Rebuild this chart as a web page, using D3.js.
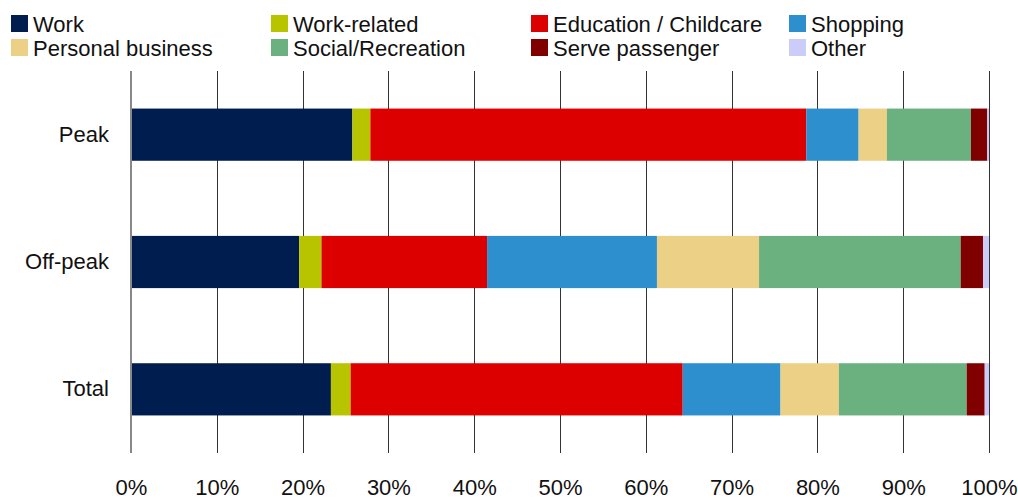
<!DOCTYPE html>
<meta charset="UTF-8">
<style>
  body { margin: 0; background: #fff; }
  text { font-family: "Liberation Sans", Arial, sans-serif; fill: #111; }
  .grid line { stroke: #333; stroke-width: 1px; }
</style>
<body>
<script src="https://cdn.jsdelivr.net/npm/d3@7"></script>
<script>

// categories (rows) and trip purposes (series)
var periods = ["Peak", "Off-peak", "Total"];
var purposes = ["Work", "Work-related", "Education / Childcare", "Shopping",
                "Personal business", "Social/Recreation", "Serve passenger", "Other"];
var colors = ["#001d50", "#b8c400", "#dd0000", "#2e8fce",
              "#ecd086", "#6bb07f", "#800000", "#ccccf8"];

// share of trips (%) per period, in purpose order
var peakValues    = [25.8, 2.1, 50.8, 6.1, 3.3, 9.8, 1.9, 0.2];
var offPeakValues = [19.6, 2.6, 19.3, 19.8, 11.9, 23.5, 2.6, 0.7];
var totalValues   = [23.3, 2.3, 38.7, 11.4, 6.8, 14.9, 2.1, 0.5];

var tickValues = [0, 10, 20, 30, 40, 50, 60, 70, 80, 90, 100];

var W = 1018, H = 502;
var margin = {top: 71, right: 29, bottom: 49, left: 131};
var width = W - margin.left - margin.right,
    height = H - margin.top - margin.bottom;

var svg = d3.select("body").append("svg")
    .attr("width", W)
    .attr("height", H);

// build rows for the stack
var valuesByPeriod = [peakValues, offPeakValues, totalValues];
var table = periods.map(function(p, i) {
  var row = {period: p};
  purposes.forEach(function(k, j) { row[k] = valuesByPeriod[i][j]; });
  return row;
});

var stack = d3.stack().keys(purposes);
var series = stack(table);

var x = d3.scaleLinear().domain([0, 100]).range([0, width]);
var y = d3.scaleBand().domain(periods).range([0, height]).paddingInner(0.59).paddingOuter(0.295);
var color = d3.scaleOrdinal().domain(purposes).range(colors);

var g = svg.append("g")
    .attr("transform", "translate(" + margin.left + "," + margin.top + ")");

// vertical gridlines
g.append("g").attr("class", "grid")
  .selectAll("line")
  .data(tickValues.slice(1))
  .enter().append("line")
    .attr("x1", function(d) { return Math.round(x(d)) + 0.5; })
    .attr("x2", function(d) { return Math.round(x(d)) + 0.5; })
    .attr("y1", 0)
    .attr("y2", height);

// bars
g.selectAll("g.layer")
  .data(series)
  .enter().append("g")
    .attr("class", "layer")
    .attr("fill", function(d) { return color(d.key); })
  .selectAll("rect")
  .data(function(d) { return d; })
  .enter().append("rect")
    .attr("x", function(d) { return x(d[0]); })
    .attr("width", function(d) { return x(d[1]) - x(d[0]); })
    .attr("y", function(d) { return y(d.data.period); })
    .attr("height", y.bandwidth());

// zero axis line
g.append("line")
  .attr("x1", 0).attr("x2", 0)
  .attr("y1", 0).attr("y2", height)
  .style("stroke", "#888")
  .style("stroke-width", "2px");

// x axis labels
var xAxis = d3.axisBottom(x)
  .tickValues(tickValues)
  .tickSize(0)
  .tickPadding(26)
  .tickFormat(function(d) { return d + "%"; });
var xa = g.append("g")
  .attr("transform", "translate(0," + height + ")")
  .call(xAxis);
xa.select(".domain").remove();
xa.selectAll("text")
  .style("font-family", "'Liberation Sans', Arial, sans-serif")
  .style("font-size", "22px")
  .style("fill", "#111");

// y axis labels
var yAxis = d3.axisLeft(y).tickSize(0).tickPadding(22);
var ya = g.append("g").call(yAxis);
ya.select(".domain").remove();
ya.selectAll("text")
  .style("font-family", "'Liberation Sans', Arial, sans-serif")
  .style("font-size", "22px")
  .style("fill", "#111");

// legend: two rows, four columns
var legendCols = [11, 271, 531, 789];
var legendRows = [15, 39];
var legendOrder = [0, 1, 2, 3, 4, 5, 6, 7];

var legend = svg.append("g").selectAll("g")
  .data(legendOrder)
  .enter().append("g")
    .attr("transform", function(d) {
      return "translate(" + legendCols[d % 4] + "," + legendRows[Math.floor(d / 4)] + ")";
    });

legend.append("rect")
  .attr("width", 17)
  .attr("height", 17)
  .attr("fill", function(d) { return colors[d]; });

legend.append("text")
  .attr("x", 22)
  .attr("y", 17)
  .style("font-size", "22px")
  .text(function(d) { return purposes[d]; });

</script>
</body>
